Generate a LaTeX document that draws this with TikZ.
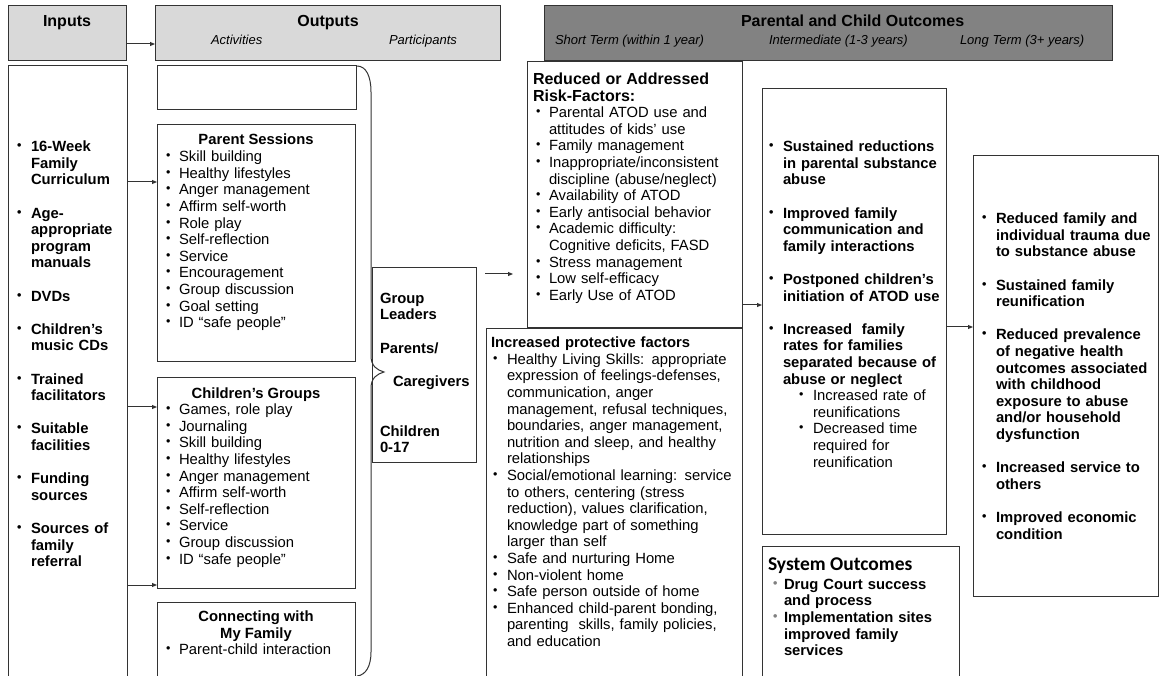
\documentclass[tikz,border=0pt]{standalone}
\usepackage{fontspec}
\setmainfont{Liberation Sans}
\newfontfamily\calib{Carlito}
\usetikzlibrary{arrows.meta}
\definecolor{lnc}{HTML}{333333}
\definecolor{hdl}{HTML}{D9D9D9}
\definecolor{hdd}{HTML}{828282}
\setlength\parindent{0pt}
\setlength\parskip{0pt}
\newcommand\fs{\fontsize{14.8}{16.6}\selectfont}
\newcommand\dotb{\raisebox{2pt}{\fontsize{12.5}{12.5}\selectfont\textbullet}}
\newcommand\bo[3]{\hangindent=\dimexpr#1+#2\relax\hangafter=1\hspace*{#1}\makebox[#2][l]{\dotb}#3\par}
\newcommand\bu[1]{\bo{0pt}{13pt}{#1}}
\newcommand\bv[1]{\bo{0pt}{14pt}{#1}}
\newcommand\sbu[1]{\bo{30pt}{14pt}{#1}}
\newcommand\gbu[1]{\hangindent=11pt\hangafter=1\makebox[11pt][l]{\textcolor{gray}{\dotb}}#1\par}
\newcommand\gp{\vskip16.6pt}
\tikzset{
  box/.style={draw=lnc, line width=1pt, inner sep=0pt, outer sep=0pt, anchor=north west},
  txt/.style={inner sep=0pt, outer sep=0pt, anchor=north west, align=left, font=\fs},
  ttl/.style={inner sep=0pt, outer sep=0pt, anchor=north, align=center, font=\fs\bfseries},
  hd/.style={inner sep=0pt, outer sep=0pt, anchor=north, font=\fontsize{16}{18}\selectfont\bfseries},
  sub/.style={inner sep=0pt, outer sep=0pt, anchor=north west, font=\fontsize{13}{15}\selectfont\itshape},
  arr/.style={draw=lnc, line width=1pt, -{Triangle[length=5pt,width=4pt]}}
}
\begin{document}
\begin{tikzpicture}[x=1pt,y=-1pt]
\clip (0,0) rectangle (1163,676);
\fill[white] (0,0) rectangle (1163,676);
% headers
\node[box, fill=hdl, minimum width=118pt, minimum height=55pt] (inH) at (8,6) {};
\node[box, fill=hdl, minimum width=345pt, minimum height=55pt] (outH) at (155,6) {};
\node[box, fill=hdd, minimum width=568pt, minimum height=55pt] (parH) at (544,6) {};
\node[hd] (tIn) at (67,15) {Inputs};
\node[hd] (tOut) at (328,15) {Outputs};
\node[sub] (tAct) at (211,35) {Activities};
\node[sub] (tPart) at (389,35) {Participants};
\node[hd, anchor=north west] (tPar) at (741,15) {Parental and Child Outcomes};
\node[sub] (tST) at (555,35) {Short Term (within 1 year)};
\node[sub] (tIM) at (769,35) {Intermediate (1-3 years)};
\node[sub] (tLT) at (960,35) {Long Term (3+ years)};
% body boxes
\node[box, minimum width=119pt, minimum height=630pt] (inB) at (8,66) {};
\node[box, minimum width=199pt, minimum height=44pt] (emB) at (157,66) {};
\node[box, minimum width=198pt, minimum height=237pt] (psB) at (157,125) {};
\node[box, minimum width=198pt, minimum height=210pt] (cgB) at (157,378) {};
\node[box, minimum width=198pt, minimum height=90pt] (cmB) at (157,602) {};
\node[box, minimum width=215pt, minimum height=266pt] (rkB) at (527,62) {};
\node[box, fill=white, minimum width=256pt, minimum height=360pt] (prB) at (486,329) {};
\node[box, minimum width=184pt, minimum height=445pt] (imB) at (762,89) {};
\node[box, minimum width=185pt, minimum height=440pt] (ltB) at (973,156) {};
\node[box, minimum width=197pt, minimum height=140pt] (syB) at (762,546) {};
% brace
\draw[draw=lnc, line width=1pt] (357,66) .. controls (366,66) and (371,76) .. (371,92)
  -- (371,356) .. controls (371,366) and (377,370) .. (384,372)
  .. controls (377,374) and (371,378) .. (371,388)
  -- (371,652) .. controls (371,666) and (366,675) .. (357,676);
\node[box, minimum width=104pt, minimum height=195pt] (glB) at (372,268) {};
% inputs text
\node[txt, text width=110pt, font=\fs\bfseries] (inT) at (17,141) {%
\bv{16-Week\newline Family\newline Curriculum}\gp
\bv{Age-\newline appropriate\newline program\newline manuals}\gp
\bv{DVDs}\gp
\bv{Children’s\newline music CDs}\gp
\bv{Trained\newline facilitators}\gp
\bv{Suitable\newline facilities}\gp
\bv{Funding\newline sources}\gp
\bv{Sources of\newline family\newline referral}};
% parent sessions
\node[ttl] (psT) at (256,134) {Parent Sessions};
\node[txt, text width=185pt] (psL) at (166,151) {%
\bu{Skill building}\bu{Healthy lifestyles}\bu{Anger management}\bu{Affirm self-worth}%
\bu{Role play}\bu{Self-reflection}\bu{Service}\bu{Encouragement}\bu{Group discussion}%
\bu{Goal setting}\bu{ID “safe people”}};
% children's groups
\node[ttl] (cgT) at (256,388) {Children’s Groups};
\node[txt, text width=185pt] (cgL) at (166,404) {%
\bu{Games, role play}\bu{Journaling}\bu{Skill building}\bu{Healthy lifestyles}%
\bu{Anger management}\bu{Affirm self-worth}\bu{Self-reflection}\bu{Service}%
\bu{Group discussion}\bu{ID “safe people”}};
% connecting
\node[ttl] (cmT) at (256,611) {Connecting with\\My Family};
\node[txt, text width=185pt] (cmL) at (166,644) {\bu{Parent-child interaction}};
% participants
\node[txt, text width=95pt, font=\fs\bfseries] (glT) at (380,293) {%
Group\newline Leaders\par\gp Parents/\par\gp\hspace*{13pt}Caregivers\par\vskip33.2pt
Children\newline 0-17\par};
% risk factors
\node[txt, text width=210pt] (rkT) at (533,73) {%
{\fontsize{16}{16.6}\selectfont\bfseries Reduced or Addressed\newline Risk-Factors:\par}%
\bo{3pt}{13pt}{Parental ATOD use and\newline attitudes of kids’ use}%
\bo{3pt}{13pt}{Family management}%
\bo{3pt}{13pt}{Inappropriate/inconsistent\newline discipline (abuse/neglect)}%
\bo{3pt}{13pt}{Availability of ATOD}%
\bo{3pt}{13pt}{Early antisocial behavior}%
\bo{3pt}{13pt}{Academic difficulty:\newline Cognitive deficits, FASD}%
\bo{3pt}{13pt}{Stress management}%
\bo{3pt}{13pt}{Low self-efficacy}%
\bo{3pt}{13pt}{Early Use of ATOD}};
% protective factors
\node[txt, text width=250pt] (prT) at (491,337) {%
{\bfseries Increased protective factors\par}%
\bo{2pt}{14pt}{Healthy Living Skills: appropriate\newline expression of feelings-defenses,\newline communication, anger\newline management, refusal techniques,\newline boundaries, anger management,\newline nutrition and sleep, and healthy\newline relationships}%
\bo{2pt}{14pt}{Social/emotional learning: service\newline to others, centering (stress\newline reduction), values clarification,\newline knowledge part of something\newline larger than self}%
\bo{2pt}{14pt}{Safe and nurturing Home}%
\bo{2pt}{14pt}{Non-violent home}%
\bo{2pt}{14pt}{Safe person outside of home}%
\bo{2pt}{14pt}{Enhanced child-parent bonding,\newline parenting\ \ skills, family policies,\newline and education}};
% intermediate
\node[txt, text width=180pt, font=\fs\bfseries] (imT) at (769,141) {%
\bv{Sustained reductions\newline in parental substance\newline abuse}\gp
\bv{Improved family\newline communication and\newline family interactions}\gp
\bv{Postponed children’s\newline initiation of ATOD use}\gp
\bv{Increased\ \ family\newline rates for families\newline separated because of\newline abuse or neglect}%
{\mdseries\sbu{Increased rate of\newline reunifications}\sbu{Decreased time\newline required for\newline reunification}}};
% long term
\node[txt, text width=180pt, font=\fs\bfseries] (ltT) at (982,213) {%
\bv{Reduced family and\newline individual trauma due\newline to substance abuse}\gp
\bv{Sustained family\newline reunification}\gp
\bv{Reduced prevalence\newline of negative health\newline outcomes associated\newline with childhood\newline exposure to abuse\newline and/or household\newline dysfunction}\gp
\bv{Increased service to\newline others}\gp
\bv{Improved economic\newline condition}};
% system outcomes
\node[inner sep=0pt, outer sep=0pt, anchor=north west, font=\calib\fontsize{19.5}{22}\selectfont\bfseries] (syT) at (768,558) {System Outcomes};
\node[txt, text width=190pt, font=\fs\bfseries] (syL) at (773,579) {%
\gbu{Drug Court success\newline and process}%
\gbu{Implementation sites\newline improved family\newline services}};
% connectors
\coordinate (y44) at (0,44);
\coordinate (y182) at (0,182);
\coordinate (y407) at (0,407);
\coordinate (y585) at (0,585);
\coordinate (y305) at (0,305);
\coordinate (y327) at (0,327);
\coordinate (ga) at (485,274);
\coordinate (gb) at (513,274);
\draw[arr] (inH.east |- y44) -- (outH.west |- y44);
\draw[arr] (inB.east |- y182) -- (psB.west |- y182);
\draw[arr] (inB.east |- y407) -- (cgB.west |- y407);
\draw[arr] (inB.east |- y585) -- (cgB.west |- y585);
\draw[arr] (ga) -- (gb);
\draw[arr] (rkB.east |- y305) -- (imB.west |- y305);
\draw[arr] (imB.east |- y327) -- (ltB.west |- y327);
\end{tikzpicture}
\end{document}
